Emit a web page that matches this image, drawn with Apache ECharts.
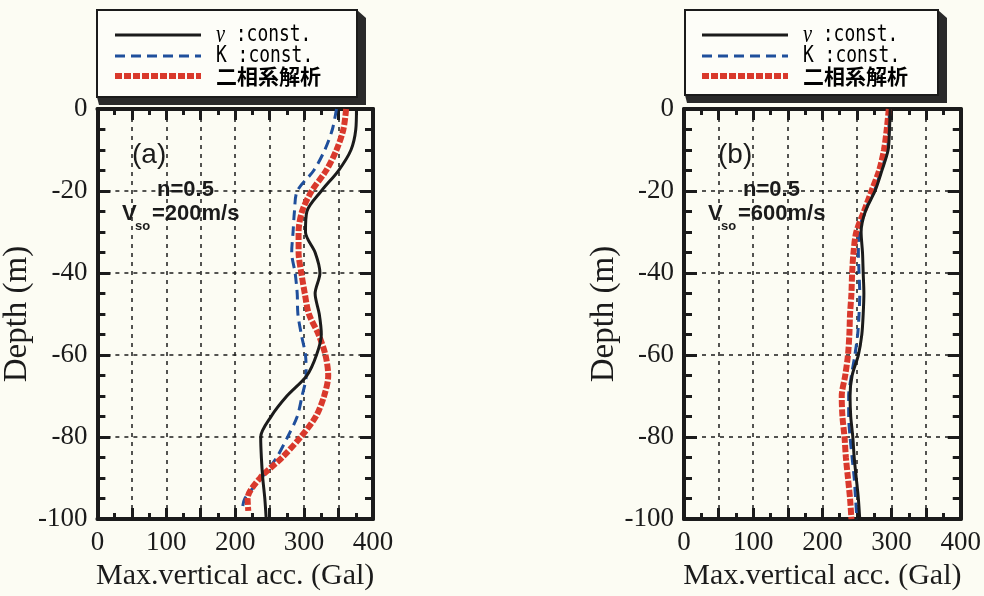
<!DOCTYPE html>
<html><head><meta charset="utf-8">
<script src="https://cdn.jsdelivr.net/npm/echarts@6/dist/echarts.min.js"></script>
<style>html,body{margin:0;padding:0;background:#fcfcf3}#c{width:984px;height:596px}</style>
</head><body><div id="c"></div>
<script>
// depth levels (m)
const depthsFull = [0,-5,-10,-15,-20,-25,-30,-35,-40,-45,-50,-55,-60,-65,-70,-75,-80,-85,-90,-95,-100];
const depthsA2   = [0,-5,-10,-15,-20,-25,-30,-35,-40,-45,-50,-55,-60,-65,-70,-75,-80,-85,-90,-95,-98];
// (a) Vso=200m/s
const aNu  = [376,375,368,350,325,304,302,316,323,316,322,325,318,304,275,252,237,238,240,243,245];
const aK   = [347,341,330,314,290,286,284,282,287,290,291,296,302,303,297,290,276,260,238,214,210];
const aTwo = [361,357,347,332,311,297,292,292,296,301,307,321,331,335,329,317,295,268,236,218,219];
// (b) Vso=600m/s
const bNu  = [298,297,295,286,276,262,256,258,259,260,259,257,252,243,240,241,244,246,249,252,254];
const bK   = [297,296,294,285,275,261,253,252,253,254,253,251,247,242,238,238,240,243,246,248,250];
const bTwo = [296,293,289,282,271,260,249,245,243,242,240,239,237,233,228,229,232,234,237,240,242];
const xTicks = [0,100,200,300,400];
const yTicks = [0,-20,-40,-60,-80,-100];
const names = ['ν :const.','K :const.','二相系解析'];

const pair = (vals, deps) => vals.map((v,i)=>[v, deps[i]]);
const INK = '#1b1b1b';
const serif = 'Liberation Serif';

function xAx(gi, pos, main){
  return {type:'value', gridIndex:gi, position:pos, min:0, max:400, interval:50,
    axisLine:{show:true, onZero:false, lineStyle:{color:INK, width:4}},
    axisTick:{show:true, inside:true, length:11, lineStyle:{color:INK, width:3}},
    minorTick:{show:true, splitNumber:2, length:6, lineStyle:{color:INK, width:3}},
    splitLine:{show:main, lineStyle:{color:INK, width:1.5, type:[4,5]}},
    axisLabel:{show:main, margin:10, fontFamily:serif, fontSize:27, color:INK,
      formatter:v => xTicks.includes(v) ? String(v) : ''},
    name: main ? 'Max.vertical acc. (Gal)' : '', nameLocation:'middle', nameGap:40,
    nameTextStyle:{fontFamily:serif, fontSize:30, color:INK}};
}
function yAx(gi, pos, main){
  return {type:'value', gridIndex:gi, position:pos, min:-100, max:0, interval:20,
    axisLine:{show:true, onZero:false, lineStyle:{color:INK, width:4}},
    axisTick:{show:true, inside:true, length:13, lineStyle:{color:INK, width:3}},
    minorTick:{show:true, splitNumber:4, length:8, lineStyle:{color:INK, width:3}},
    splitLine:{show:main, lineStyle:{color:INK, width:1.5, type:[4,5]}},
    axisLabel:{show:main, margin:10, fontFamily:serif, fontSize:27, color:INK,
      formatter:v => yTicks.includes(v) ? String(v) : ''},
    name: main ? 'Depth (m)' : '', nameLocation:'middle', nameGap:52, nameRotate:90,
    nameTextStyle:{fontFamily:serif, fontSize:33, color:INK}};
}
const styles = [
  {color:'#1b1b1b', width:3, type:'solid'},
  {color:'#1f4f9c', width:3, type:[10,6]},
  {color:'#d9392c', width:6, type:[7,2]}
];
function ser(name, k, data, gi){
  return {type:'line', name:name, xAxisIndex:gi*2, yAxisIndex:gi*2, data:data,
    showSymbol:false, symbol:'none', smooth:0.3, z: k===0?5:(k===1?3:4),
    lineStyle:styles[k], itemStyle:{color:styles[k].color}};
}
const rich = {
  nu:{fontFamily:serif, fontStyle:'italic', fontSize:26, color:'#111'},
  m:{fontFamily:'DejaVu Sans Mono', fontSize:23, color:'#111'},
  kb:{fontFamily:'DejaVu Sans Mono', fontSize:23, color:'#1d4b98'},
  jr:{fontFamily:'Noto Sans CJK JP', fontWeight:'bold', fontSize:21, color:'#c9302a'}
};
const legendText = ['{nu|ν}{m| :const.}', '{kb|K :const.}', '{jr|二相系解析}'];
const legendScale = [0.78, 0.78, 1];
// legend sample rows (drawn as graphic: line sample + label)
function legendRows(x){
  const ys = [35, 56, 76];
  const out = [];
  styles.forEach((s,i)=>{
    out.push({type:'line', z:5, shape:{x1:x, y1:ys[i], x2:x+86, y2:ys[i]},
      style:{stroke:s.color, lineWidth:s.width, lineDash: s.type==='solid'?null:s.type}});
    out.push({type:'text', z:5, x:x+101, y:ys[i], scaleX:legendScale[i],
      style:{text:legendText[i], rich:rich, verticalAlign:'middle', align:'left'}});
  });
  return out;
}
function box(x0,y0,x1,y1){
  return [
    {type:'polygon', z:1, shape:{points:[[x1,y0],[x1+9,y0+8],[x1+9,y1+8],[x0+2,y1+8],[x0,y1]]}, style:{fill:'#2a2a2a'}},
    {type:'rect', z:2, shape:{x:x0,y:y0,width:x1-x0,height:y1-y0}, style:{fill:'#fdfdf8', stroke:'#1b1b1b', lineWidth:2}}
  ];
}
function annot(x, label, vso){
  const f = 'Liberation Sans';
  return [
    {type:'text', z:10, left:x, top:141, style:{text:label, font:'28px '+f, fill:INK}},
    {type:'text', z:10, left:x+25, top:179, style:{text:'n=0.5', font:'bold 22px '+f, fill:INK}},
    {type:'text', z:10, left:x-10, top:203, style:{text:'V', font:'bold 22px '+f, fill:INK}},
    {type:'text', z:10, left:x+3, top:220, style:{text:'so', font:'bold 13px '+f, fill:INK}},
    {type:'text', z:10, left:x+20, top:203, style:{text:'='+vso+'m/s', font:'bold 22px '+f, fill:INK}}
  ];
}
const chart = echarts.init(document.getElementById('c'), null, {renderer:'canvas'});
chart.setOption({
  backgroundColor:'#fcfcf3',
  animation:false,
  grid:[{left:97, top:109, width:276, height:412}, {left:684, top:109, width:277, height:412}],
  xAxis:[xAx(0,'bottom',true), xAx(0,'top',false), xAx(1,'bottom',true), xAx(1,'top',false)],
  yAxis:[yAx(0,'left',true), yAx(0,'right',false), yAx(1,'left',true), yAx(1,'right',false)],
  graphic:[...box(97,10,357,97), ...box(685,10,938,95), ...legendRows(115), ...legendRows(702),
           ...annot(132,'(a)','200'), ...annot(718,'(b)','600')],
  series:[
    ser(names[0],0,pair(aNu,depthsFull),0),
    ser(names[1],1,pair(aK,depthsA2),0),
    ser(names[2],2,pair(aTwo,depthsA2),0),
    ser(names[0],0,pair(bNu,depthsFull),1),
    ser(names[1],1,pair(bK,depthsFull),1),
    ser(names[2],2,pair(bTwo,depthsFull),1)
  ]
});
</script></body></html>
